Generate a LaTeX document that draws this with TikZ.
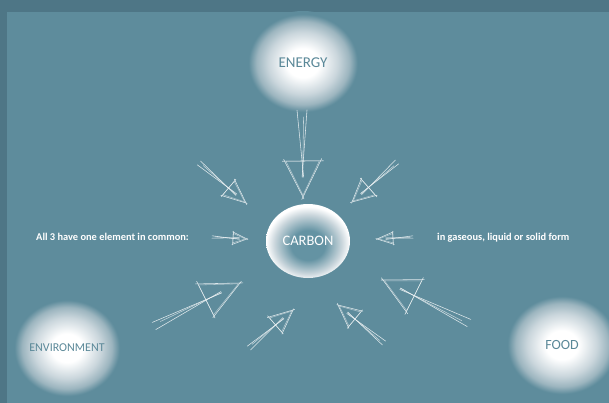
\documentclass[tikz,border=0pt]{standalone}
\usepackage{fontspec}
\setmainfont{Carlito}
\usetikzlibrary{calc,shapes.geometric}

\definecolor{bg}{HTML}{5E8C9C}
\definecolor{framec}{HTML}{4E7686}
\definecolor{blobring}{HTML}{CAD6DC}
\definecolor{blobedge}{HTML}{9CB5BF}
\definecolor{labelc}{HTML}{5A8898}
\definecolor{coreteal}{HTML}{6493A3}
\definecolor{chalk}{HTML}{EEF3F5}

% soft white glow for the three source blobs (path edge sits at 25bp)
\pgfdeclareradialshading{glow}{\pgfpoint{0bp}{0bp}}{%
  color(0bp)=(white); color(7bp)=(white); color(15bp)=(blobring);
  color(20bp)=(blobedge); color(23.5bp)=(bg); color(25bp)=(bg); color(50bp)=(bg)}
% teal disc with a bright rim for the centre
\pgfdeclareradialshading{rim}{\pgfpoint{0bp}{-3.5bp}}{%
  color(0bp)=(coreteal); color(10bp)=(coreteal); color(20bp)=(blobring);
  color(25bp)=(white); color(50bp)=(white)}

\tikzset{
  blobnode/.style={ellipse, inner sep=0pt, shading=glow, text=labelc},
  centrenode/.style={ellipse, inner sep=0pt, shading=rim, text=white},
  sidetext/.style={text=white, font=\fontsize{10.4}{12}\selectfont\bfseries, inner sep=0pt},
  sk/.style={draw=chalk, line width=0.55pt, line cap=round, line join=round, opacity=0.9},
}

% hand-drawn arrow: #1 tail, #2 tip, #3 head length, #4 head half-width, #5 tail spread
\newcommand\skarrow[5]{%
  \coordinate (#1b) at ($(#2)!#3!(#1)$);
  \coordinate (#1l) at ($(#1b)!#4!90:(#2)$);
  \coordinate (#1r) at ($(#1b)!#4!-90:(#2)$);
  \coordinate (#1m) at ($(#1b)!0.45!(#2)$);
  \draw[sk] ($(#1)!#5!90:(#2)$) -- ($(#1m)!0.7pt!-90:(#2)$);
  \draw[sk] ($(#1)!#5!-90:(#2)$) -- ($(#1m)!0.9pt!90:(#2)$);
  \draw[sk, opacity=0.7] ($($(#1)!0.08!(#2)$)!0.3*#5!90:(#2)$) -- ($(#1m)!0.2pt!-90:(#2)$);
  \draw[sk] ($(#1l)!-0.06!(#2)$) -- ($(#1l)!1.07!(#2)$);
  \draw[sk] ($(#1r)!-0.05!(#2)$) -- ($(#1r)!1.05!(#2)$);
  \draw[sk] ($(#1l)!-0.08!(#1r)$) -- ($(#1r)!-0.06!(#1l)$);
  \draw[sk, opacity=0.55] ($(#1l)!1.2pt!(#1b)$) -- ($(#2)!1.8pt!(#1b)$) -- ($(#1r)!1.4pt!(#1b)$) -- cycle;
}

\begin{document}
\begin{tikzpicture}[x=1pt, y=-1pt]
  \useasboundingbox (0,0) rectangle (609,403);
  \fill[framec] (0,0) rectangle (609,403);
  \fill[bg] (7,12) rectangle (609,403);

  \begin{scope}
    \clip (0,0) rectangle (609,403);
    \node[blobnode, minimum width=116pt, minimum height=104pt,
          font=\fontsize{15}{18}\selectfont] (energy) at (303,63) {ENERGY};
    \node[blobnode, minimum width=112pt, minimum height=102pt,
          font=\fontsize{12}{14}\selectfont] (environment) at (67,348) {ENVIRONMENT};
    \node[blobnode, minimum width=116pt, minimum height=104pt,
          font=\fontsize{14}{16}\selectfont] (food) at (562,345) {FOOD};
  \end{scope}

  \node[centrenode, minimum width=84pt, minimum height=74pt,
        font=\fontsize{14.5}{17}\selectfont] (carbon) at (308,241) {CARBON};

  \node[sidetext, anchor=west] (common) at (36,237) {All 3 have one element in common:};
  \node[sidetext, anchor=west] (form) at (437,238) {in gaseous, liquid or solid form};

  % arrow ends
  \coordinate (a1t) at (302,110);  \coordinate (a1h) at (303,197);
  \coordinate (a2t) at (199,163);  \coordinate (a2h) at (246,203);
  \coordinate (a3t) at (397,162);  \coordinate (a3h) at (352,202);
  \coordinate (a4t) at (212,237);  \coordinate (a4h) at (247,239);
  \coordinate (a5t) at (413,237);  \coordinate (a5h) at (377,239);
  \coordinate (a6t) at (154,326);  \coordinate (a6h) at (240,283);
  \coordinate (a7t) at (249,348);  \coordinate (a7h) at (293,310);
  \coordinate (a8t) at (384,343);  \coordinate (a8h) at (338,305);
  \coordinate (a9t) at (469,323);  \coordinate (a9h) at (383,280);

  \skarrow{a1t}{a1h}{36pt}{18pt}{5pt}
  \skarrow{a2t}{a2h}{23pt}{10pt}{2.5pt}
  \skarrow{a3t}{a3h}{22pt}{11pt}{2.5pt}
  \skarrow{a4t}{a4h}{14pt}{6pt}{1.2pt}
  \skarrow{a5t}{a5h}{16pt}{6pt}{1.2pt}
  \skarrow{a6t}{a6h}{38pt}{18pt}{4pt}
  \skarrow{a7t}{a7h}{23pt}{10.5pt}{2.5pt}
  \skarrow{a8t}{a8h}{22pt}{10.5pt}{2.5pt}
  \skarrow{a9t}{a9h}{35pt}{18pt}{4pt}
\end{tikzpicture}
\end{document}
